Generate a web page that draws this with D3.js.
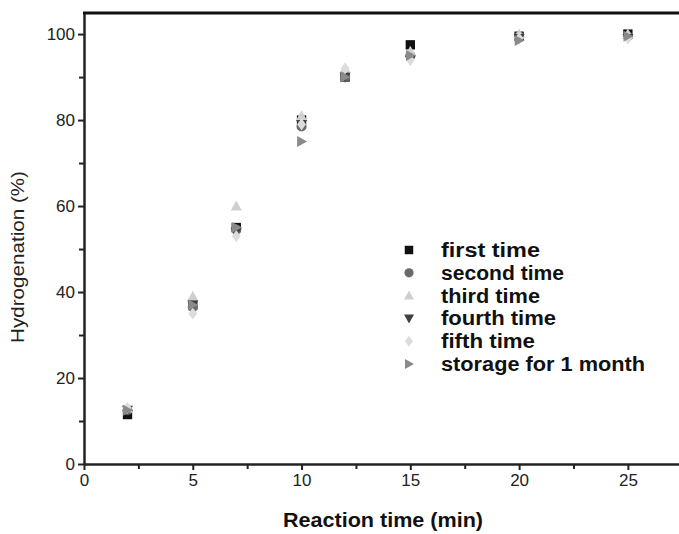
<!DOCTYPE html>
<html><head><meta charset="utf-8">
<script src="https://cdn.jsdelivr.net/npm/d3@7"></script>
<style>body{margin:0;background:#fff}svg{display:block}</style>
</head><body>
<script>
const times = [2, 5, 7, 10, 12, 15, 20, 25];
const seriesNames = ["first time", "second time", "third time", "fourth time", "fifth time", "storage for 1 month"];
const firstTime   = [11.5, 37, 55, 80, 90, 97.5, 99.5, 100];
const secondTime  = [12.5, 36.5, 54.5, 78.5, 90, 95, 99.5, 99.5];
const thirdTime   = [13, 39, 60, 81, 92, 96, 100, 100];
const fourthTime  = [12.5, 37, 54, 79, 90, 94, 99, 99];
const fifthTime   = [13, 35, 53, 79, 92, 94, 99, 99];
const storage1m   = [12.5, 37, 55, 75, 90, 95, 98.5, 99.5];
const xTicks = [0, 5, 10, 15, 20, 25];
const yTicks = [0, 20, 40, 60, 80, 100];

const seriesValues = [firstTime, secondTime, thirdTime, fourthTime, fifthTime, storage1m];
const colors = ["#111111", "#6a6a6a", "#cfcfcf", "#404040", "#dcdcdc", "#8a8a8a"];
const shapes = ["square", "circle", "up", "down", "diamond", "right"];
const legendWidths = [99, 123, 99, 115, 94, 204];

const W = 679, H = 534;
const FONT = "Liberation Sans, Arial, sans-serif";
const svg = d3.select("body").append("svg").attr("width", W).attr("height", H);
const x = d3.scaleLinear().domain([0, 27.35]).range([84, 679]);
const y = d3.scaleLinear().domain([0, 104.9]).range([464, 13]);

function symbolPath(shape, s) {
  const h = s / 2;
  if (shape === "square") return `M${-h*0.85},${-h*0.85}H${h*0.85}V${h*0.85}H${-h*0.85}Z`;
  if (shape === "circle") return d3.symbol(d3.symbolCircle, Math.PI * h * h * 0.85)();
  if (shape === "up") return `M0,${-h}L${h},${h*0.8}L${-h},${h*0.8}Z`;
  if (shape === "down") return `M0,${h}L${h},${-h*0.8}L${-h},${-h*0.8}Z`;
  if (shape === "diamond") return `M0,${-h*1.1}L${h*0.8},0L0,${h*1.1}L${-h*0.8},0Z`;
  if (shape === "right") return `M${h},0L${-h*0.8},${h}L${-h*0.8},${-h}Z`;
}

const xAxis = d3.axisBottom(x).tickValues(xTicks).tickSize(6).tickSizeOuter(0).tickPadding(4);
const xMinor = d3.axisBottom(x).tickValues([2.5, 7.5, 12.5, 17.5, 22.5]).tickSize(5).tickFormat("").tickSizeOuter(0);
const yAxis = d3.axisLeft(y).tickValues(yTicks).tickSize(6).tickSizeOuter(0).tickPadding(3);
const yMinor = d3.axisLeft(y).tickValues([10, 30, 50, 70, 90]).tickSize(5).tickFormat("").tickSizeOuter(0);

function styleAxis(g) {
  g.select(".domain").attr("stroke", "#222").attr("stroke-width", 2);
  g.selectAll(".tick line").attr("stroke", "#222").attr("stroke-width", 2);
  g.selectAll(".tick text").attr("fill", "#222").style("font-family", FONT).style("font-size", "17px");
}
svg.append("g").attr("transform", "translate(0,464)").call(xMinor).call(styleAxis);
svg.append("g").attr("transform", "translate(0,464)").call(xAxis).call(styleAxis);
svg.append("g").attr("transform", "translate(84,0)").call(yMinor).call(styleAxis);
svg.append("g").attr("transform", "translate(84,0)").call(yAxis).call(styleAxis);

svg.append("line").attr("x1", 83).attr("x2", 679).attr("y1", y(104.9)).attr("y2", y(104.9))
  .attr("stroke", "#111").attr("stroke-width", 3);

svg.append("text").attr("x", 383).attr("y", 527).attr("text-anchor", "middle")
  .style("font-family", FONT).style("font-size", "20px").style("font-weight", "bold")
  .attr("textLength", 200).attr("lengthAdjust", "spacingAndGlyphs")
  .attr("fill", "#111").text("Reaction time (min)");
svg.append("text").attr("transform", "translate(24,257) rotate(-90)").attr("text-anchor", "middle")
  .style("font-family", FONT).style("font-size", "18px")
  .attr("textLength", 172).attr("lengthAdjust", "spacingAndGlyphs")
  .attr("fill", "#222").text("Hydrogenation (%)");

seriesValues.forEach((vals, i) => {
  svg.append("g").selectAll("path").data(vals).join("path")
    .attr("transform", (d, j) => `translate(${x(times[j])},${y(d)})`)
    .attr("d", symbolPath(shapes[i], 11))
    .attr("fill", colors[i]);
});

const lg = svg.append("g");
seriesNames.forEach((name, i) => {
  const ly = 250 + i * 22.8;
  lg.append("path").attr("transform", `translate(409,${ly})`).attr("d", symbolPath(shapes[i], 10)).attr("fill", colors[i]);
  lg.append("text").attr("x", 441).attr("y", ly + 7)
    .style("font-family", FONT).style("font-size", "20px").style("font-weight", "bold")
    .attr("textLength", legendWidths[i]).attr("lengthAdjust", "spacingAndGlyphs")
    .attr("fill", "#111").text(name);
});
</script>
</body></html>
